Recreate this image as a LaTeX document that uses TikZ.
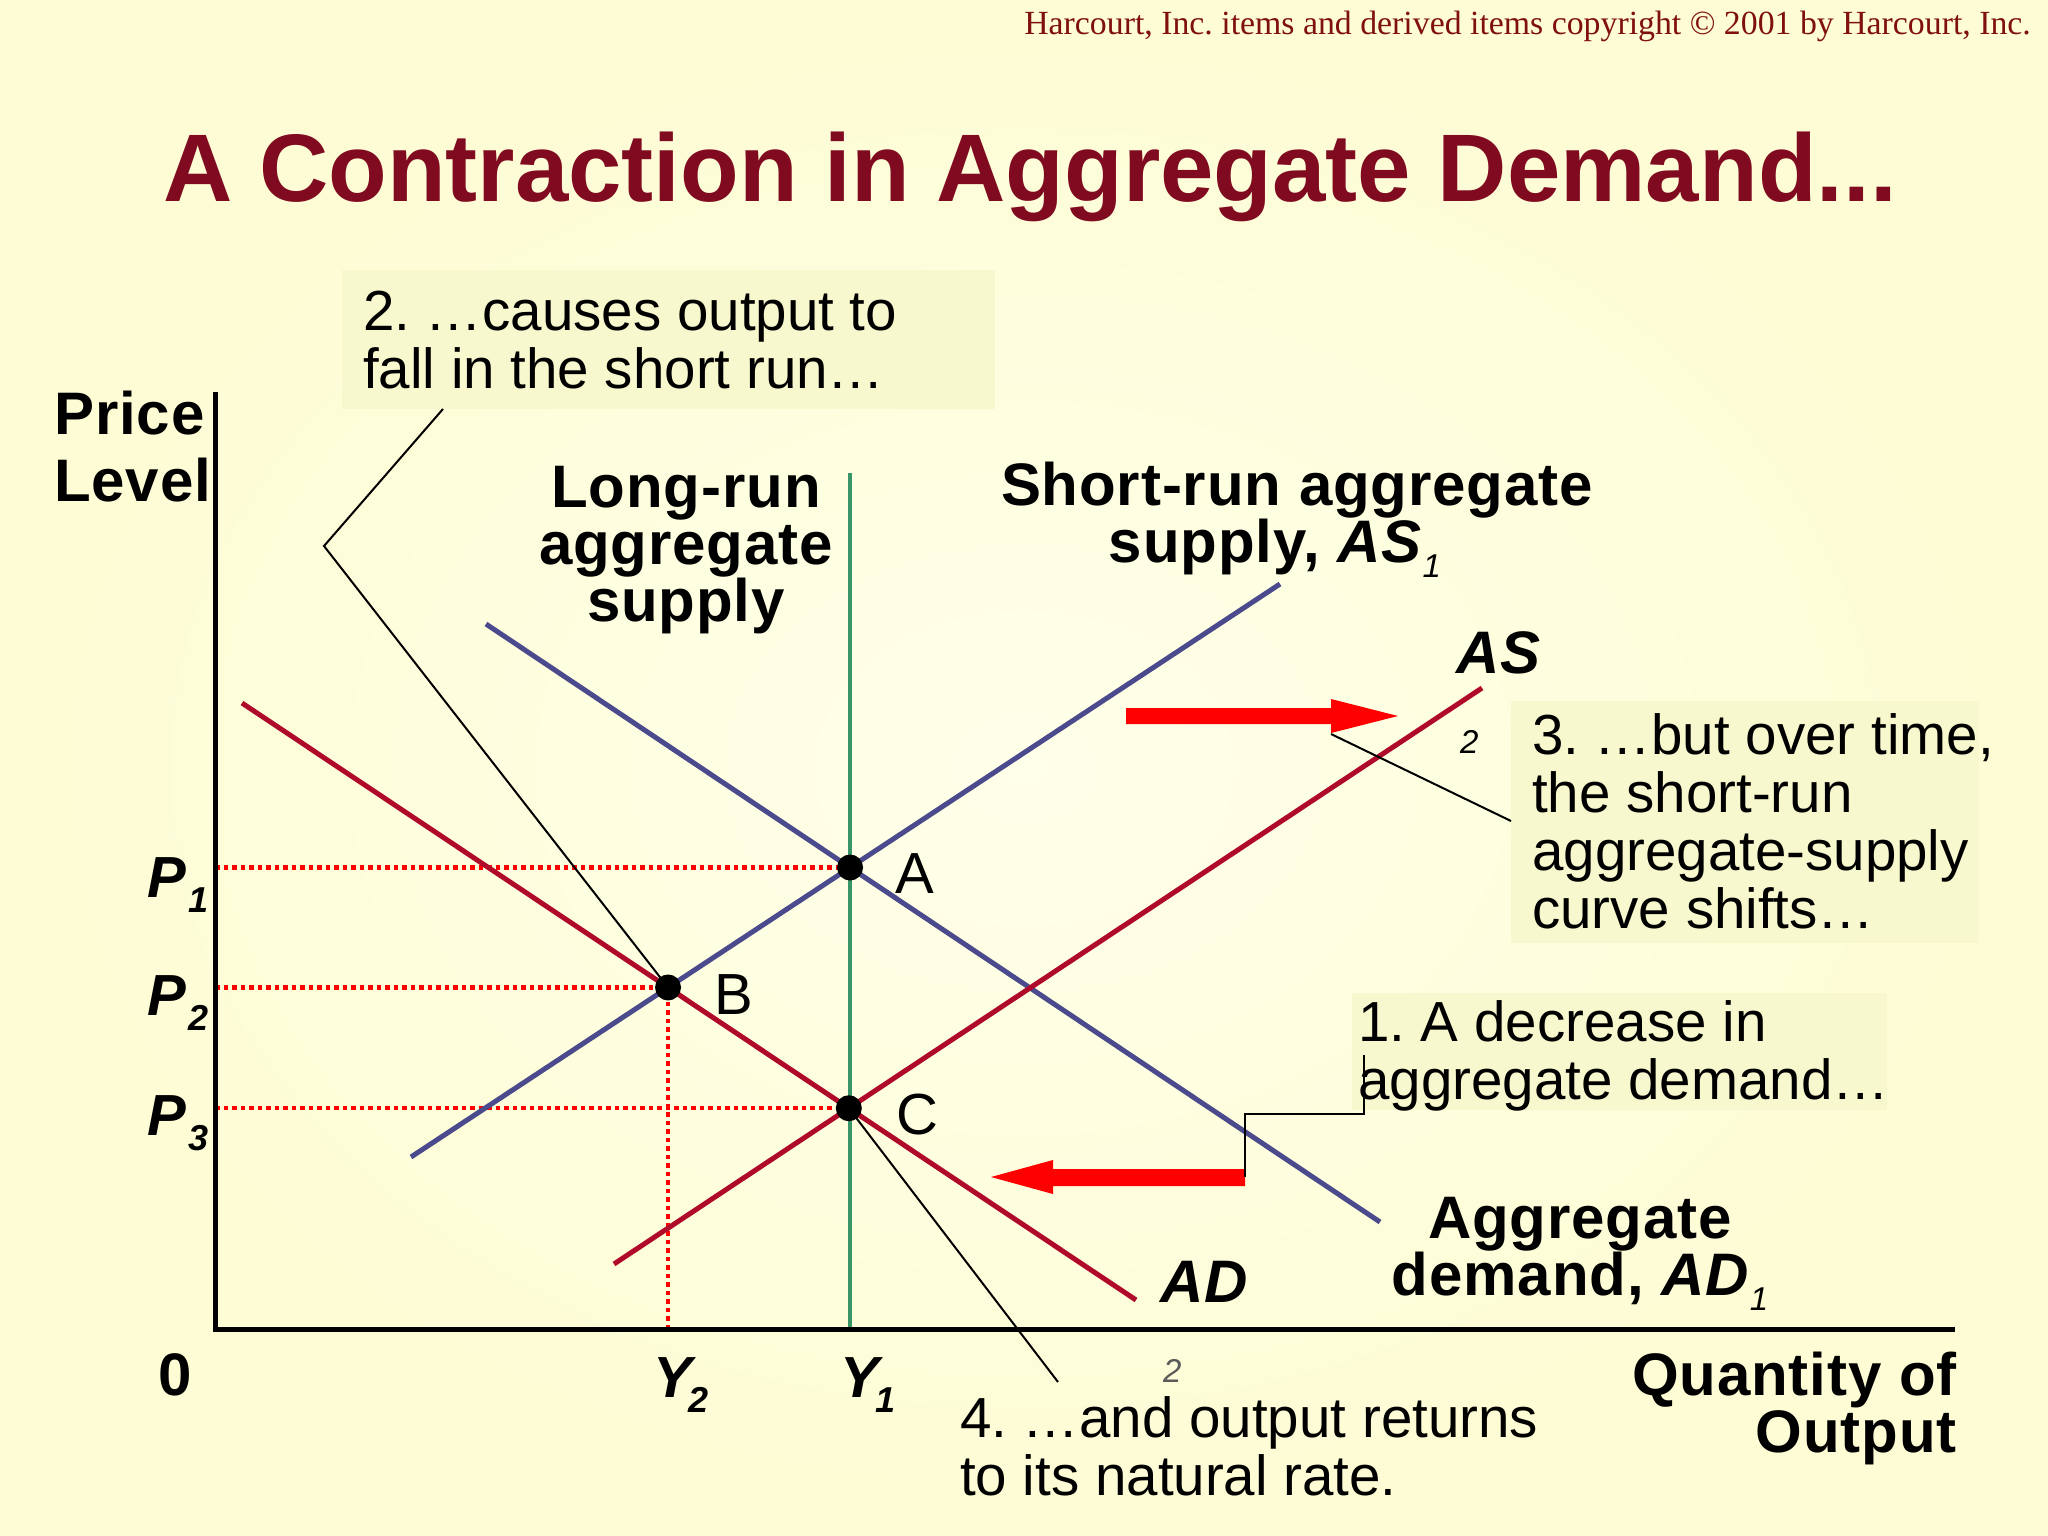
\documentclass[tikz,border=0pt]{standalone}
\usepackage{fontspec}
\setmainfont{Liberation Sans}
\newfontfamily\crfont{Liberation Serif}
\definecolor{titlered}{RGB}{128,10,32}
\definecolor{crred}{RGB}{128,16,16}
\definecolor{bgin}{RGB}{255,255,234}
\definecolor{bgout}{RGB}{253,252,212}
\definecolor{boxfill}{RGB}{248,248,206}
\definecolor{navy}{RGB}{74,74,140}
\definecolor{crimson}{RGB}{175,10,42}
\definecolor{lrgreen}{RGB}{58,150,105}
\definecolor{subgray}{RGB}{90,90,90}
\frenchspacing
\newcommand{\cstack}[1]{\vtop{\lineskiplimit=-\maxdimen\halign{\hfil##\hfil\cr#1\crcr}}}
\newcommand{\lstack}[1]{\vtop{\lineskiplimit=-\maxdimen\halign{##\hfil\cr#1\crcr}}}
\newcommand{\rstack}[1]{\vtop{\lineskiplimit=-\maxdimen\halign{\hfil##\cr#1\crcr}}}
\newcommand{\mysub}[1]{\raisebox{-15pt}{\fontsize{33}{33}\selectfont\mdseries\itshape\addfontfeatures{LetterSpace=0} #1}}
\newcommand{\boldsub}[1]{\raisebox{-15pt}{\fontsize{36}{36}\selectfont\bfseries\itshape #1}}
\begin{document}
\begin{tikzpicture}[x=1pt,y=-1pt,
  boldlbl/.style={inner sep=0pt,font=\fontsize{60}{57}\selectfont\bfseries\addfontfeatures{LetterSpace=1.5}},
  note/.style={inner sep=0pt,anchor=base west,font=\fontsize{56.5}{58}\selectfont},
  ptlbl/.style={inner sep=0pt,anchor=base west,font=\fontsize{58}{58}\selectfont\bfseries\itshape},
  curveline/.style={line width=5pt},
  guide/.style={red,line width=4.5pt,dash pattern=on 4.5pt off 4pt},
  leader/.style={black,line width=2pt},
  callout/.style={fill=boxfill,draw=none,inner sep=0pt,anchor=north west},
  redarrow/.style={fill=red,draw=none}]
\useasboundingbox (0,0) rectangle (2048,1536);
\shade[shading=radial,inner color=bgin,outer color=bgout] (0,0) rectangle (2048,1536);

% copyright and title
\node[anchor=base east,inner sep=0pt,font=\fontsize{33.8}{36}\selectfont\crfont,text=crred] (copy) at (2031,35)
  {Harcourt, Inc. items and derived items copyright © 2001 by Harcourt, Inc.};
\node[anchor=base,inner sep=0pt,font=\fontsize{96}{100}\selectfont\bfseries,text=titlered] (title) at (1030,201)
  {A Contraction in Aggregate Demand...};

% callout boxes
\node[callout,minimum width=653pt,minimum height=139pt] (box2) at (342,270) {};
\node[callout,minimum width=468pt,minimum height=242pt] (box3) at (1511,701) {};
\node[callout,minimum width=535pt,minimum height=117pt] (box1) at (1352,993) {};

% key coordinates
\coordinate (O) at (215,1329);
\coordinate (ytop) at (215,392);
\coordinate (xend) at (1955,1329);
\coordinate (as1s) at (411,1157);
\coordinate (as1e) at (1280,584);
\coordinate (ad1s) at (486,624);
\coordinate (ad1e) at (1380,1222);
\coordinate (ad2s) at (242,703);
\coordinate (ad2e) at (1136,1300);
\coordinate (as2s) at (614,1264);
\coordinate (as2e) at (1482,688);
\coordinate (lrtop) at (850,473);
\coordinate (lrbot) at (850,1329);
\coordinate (A) at (intersection of as1s--as1e and ad1s--ad1e);
\coordinate (B) at (intersection of as1s--as1e and ad2s--ad2e);
\coordinate (C) at (intersection of as2s--as2e and ad2s--ad2e);

% guides
\draw[guide] (O |- A) -- (A);
\draw[guide] (O |- B) -- (B) -- (B |- O);
\draw[guide] (O |- C) -- (C);

% curves
\draw[curveline,lrgreen,line width=4pt] (lrtop) -- (lrbot);
\draw[curveline,navy] (as1s) -- (as1e);
\draw[curveline,navy] (ad1s) -- (ad1e);
\draw[curveline,crimson] (ad2s) -- (ad2e);
\draw[curveline,crimson] (as2s) -- (as2e);

% axes
\draw[line width=5pt] (ytop) -- (O) -- (xend);

% shift arrows
\fill[redarrow] (1126,708) -- (1331,708) -- (1331,699) -- (1398,716) -- (1331,733) -- (1331,724) -- (1126,724) -- cycle;
\fill[redarrow] (1245,1169) -- (1053,1169) -- (1053,1160) -- (991,1177) -- (1053,1194) -- (1053,1186) -- (1245,1186) -- cycle;

% leaders
\coordinate (l2a) at (443,409);
\coordinate (l2b) at (324,546);
\draw[leader] (l2a) -- (l2b) -- (B);
\coordinate (l3a) at (1331,734);
\coordinate (l3b) at (1511,821);
\draw[leader] (l3a) -- (l3b);
\coordinate (l1a) at (1245,1177);
\coordinate (l1b) at (1245,1114);
\coordinate (l1c) at (1364,1114);
\coordinate (l1d) at (1364,1055);
\draw[leader] (l1a) -- (l1b) -- (l1c) -- (l1d);
\coordinate (l4) at (1058,1382);
\draw[leader] (C) -- (l4);

% equilibrium dots
\fill (A) circle[radius=13pt];
\fill (B) circle[radius=13pt];
\fill (C) circle[radius=13pt];

% axis labels
\node[inner sep=0pt,anchor=base west,font=\fontsize{60}{67}\selectfont\bfseries\addfontfeatures{LetterSpace=1.5}] (price) at (54,434) {\lstack{Price\cr Level}};
\node[boldlbl,anchor=base east] (qty) at (1957,1395) {\rstack{Quantity of\cr Output}};
\node[boldlbl,anchor=base west] (zero) at (158,1395) {0};

% curve labels
\node[boldlbl,anchor=base] (lras) at (686,507) {\cstack{Long-run\cr aggregate\cr supply}};
\node[boldlbl,anchor=base] (sras) at (1297,505) {\cstack{Short-run aggregate\cr supply, \textit{AS}\mysub{1}\hspace{44pt}}};
\node[boldlbl,anchor=base] (adlbl) at (1580,1238) {\cstack{Aggregate\cr demand, \textit{AD}\mysub{1}}};
\node[boldlbl,anchor=base west,font=\fontsize{60}{57}\selectfont\bfseries\itshape\addfontfeatures{LetterSpace=1.5}] (as2lbl) at (1456,673) {AS};
\node[inner sep=0pt,anchor=base west,font=\fontsize{33}{33}\selectfont\itshape] (as2sub) at (1460,753) {2};
\node[boldlbl,anchor=base west,font=\fontsize{60}{57}\selectfont\bfseries\itshape\addfontfeatures{LetterSpace=1.5}] (ad2lbl) at (1160,1302) {AD};
\node[inner sep=0pt,anchor=base west,font=\fontsize{33}{33}\selectfont\itshape,text=subgray] (ad2sub) at (1163,1382) {2};

% price and output levels
\node[ptlbl] (p1) at (147,897) {P\hspace{3pt}\boldsub{1}};
\node[ptlbl] (p2) at (147,1015) {P\hspace{3pt}\boldsub{2}};
\node[ptlbl] (p3) at (147,1135) {P\hspace{3pt}\boldsub{3}};
\node[ptlbl] (y2) at (653,1397) {Y\hspace{-3pt}\boldsub{2}};
\node[ptlbl] (y1) at (840,1397) {Y\hspace{-3pt}\boldsub{1}};

% point labels
\node[note,font=\fontsize{58}{58}\selectfont] (lA) at (895,893) {A};
\node[note,font=\fontsize{58}{58}\selectfont] (lB) at (714,1014) {B};
\node[note,font=\fontsize{58}{58}\selectfont] (lC) at (896,1134) {C};

% callout texts
\node[note] (t2) at (363,330) {\lstack{2. …causes output to\cr fall in the short run…}};
\node[note] (t3) at (1532,754) {\lstack{3. …but over time,\cr the short-run\cr aggregate-supply\cr curve shifts…}};
\node[note] (t1) at (1358,1041) {\lstack{1. A decrease in\cr aggregate demand…}};
\node[note] (t4) at (960,1437) {\lstack{4. …and output returns\cr to its natural rate.}};
\end{tikzpicture}
\end{document}
